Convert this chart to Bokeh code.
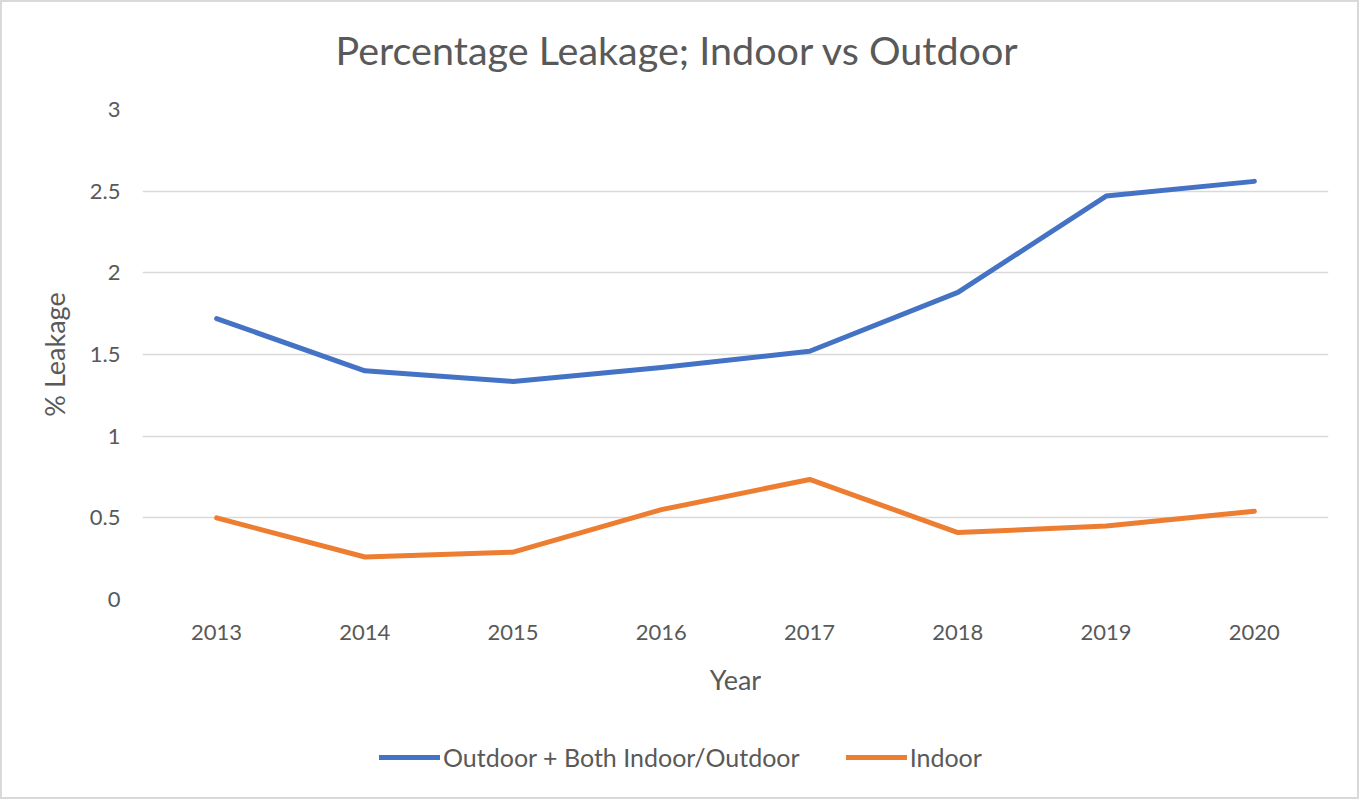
from bokeh.plotting import figure
from bokeh.layouts import column
from bokeh.models import Range1d, FactorRange, Legend, LegendItem, SingleIntervalTicker, Label
from bokeh.embed import file_html
from bokeh.resources import INLINE

years = ["2013", "2014", "2015", "2016", "2017", "2018", "2019", "2020"]
outdoor_both = [1.72, 1.40, 1.335, 1.42, 1.52, 1.88, 2.47, 2.56]
indoor = [0.50, 0.26, 0.29, 0.55, 0.735, 0.41, 0.45, 0.54]
series_names = ["Outdoor + Both Indoor/Outdoor", "Indoor"]
series_colors = ["#4472C4", "#ED7D31"]
title_text = "Percentage Leakage; Indoor vs Outdoor"

FONT = "Lato"
GREY = "#595959"


def strip(height):
    f = figure(width=1355, height=height, x_range=Range1d(0, 1186), y_range=Range1d(0, height),
               output_backend="svg", toolbar_location=None,
               x_axis_location=None, y_axis_location=None, min_border=0)
    f.outline_line_color = None
    f.xgrid.grid_line_color = None
    f.ygrid.grid_line_color = None
    f.border_fill_color = "white"
    return f


# title strip (its frame is aligned with the main frame by the column layout)
tt = strip(80)
tt.add_layout(Label(x=535, y=33, text=title_text, text_align="center", text_baseline="middle",
                    text_font=FONT, text_font_size="39.5px", text_color=GREY))

p = figure(
    width=1355, height=640,
    x_range=FactorRange(*years), y_range=Range1d(0, 3),
    output_backend="svg", toolbar_location=None,
    min_border_left=140, min_border_right=29, min_border_top=27, min_border_bottom=123,
)
p.outline_line_color = None
p.background_fill_color = "white"
p.border_fill_color = "white"

p.line(years, outdoor_both, line_color=series_colors[0], line_width=5, line_cap="round", line_join="round")
p.line(years, indoor, line_color=series_colors[1], line_width=5, line_cap="round", line_join="round")

p.xgrid.grid_line_color = None
p.ygrid.grid_line_color = "#d9d9d9"
p.ygrid.grid_line_width = 1.5
p.yaxis.ticker = SingleIntervalTicker(interval=0.5)

for ax in (p.xaxis[0], p.yaxis[0]):
    ax.axis_line_color = None
    ax.major_tick_line_color = None
    ax.minor_tick_line_color = None
    ax.major_label_text_font = FONT
    ax.major_label_text_font_size = "22px"
    ax.major_label_text_color = GREY
    ax.axis_label_text_font = FONT
    ax.axis_label_text_font_size = "27px"
    ax.axis_label_text_color = GREY
    ax.axis_label_text_font_style = "normal"

p.xaxis.axis_label = "Year"
p.xaxis.major_label_standoff = 19
p.xaxis.axis_label_standoff = 20
p.yaxis.axis_label = "% Leakage"
p.yaxis.major_label_standoff = 16
p.yaxis.axis_label_standoff = 16

# legend strip below the chart
lg = strip(75)
lr = [lg.line([-5, -6], [-5, -6], line_color=c, line_width=5, line_cap="round") for c in series_colors]
legend = Legend(items=[LegendItem(label=n, renderers=[r]) for n, r in zip(series_names, lr)],
                orientation="horizontal", location=(237, 25))
legend.border_line_color = None
legend.background_fill_alpha = 0
legend.padding = 0
legend.margin = 0
legend.spacing = 46
legend.glyph_width = 61
legend.glyph_height = 24
legend.label_height = 24
legend.label_standoff = 3
legend.label_text_font = FONT
legend.label_text_font_size = "25px"
legend.label_text_color = GREY
lg.add_layout(legend)

layout = column(tt, p, lg, spacing=0, styles={"border": "2px solid #d9d9d9", "background-color": "white"})

open("out.html", "w").write(file_html(layout, INLINE))
